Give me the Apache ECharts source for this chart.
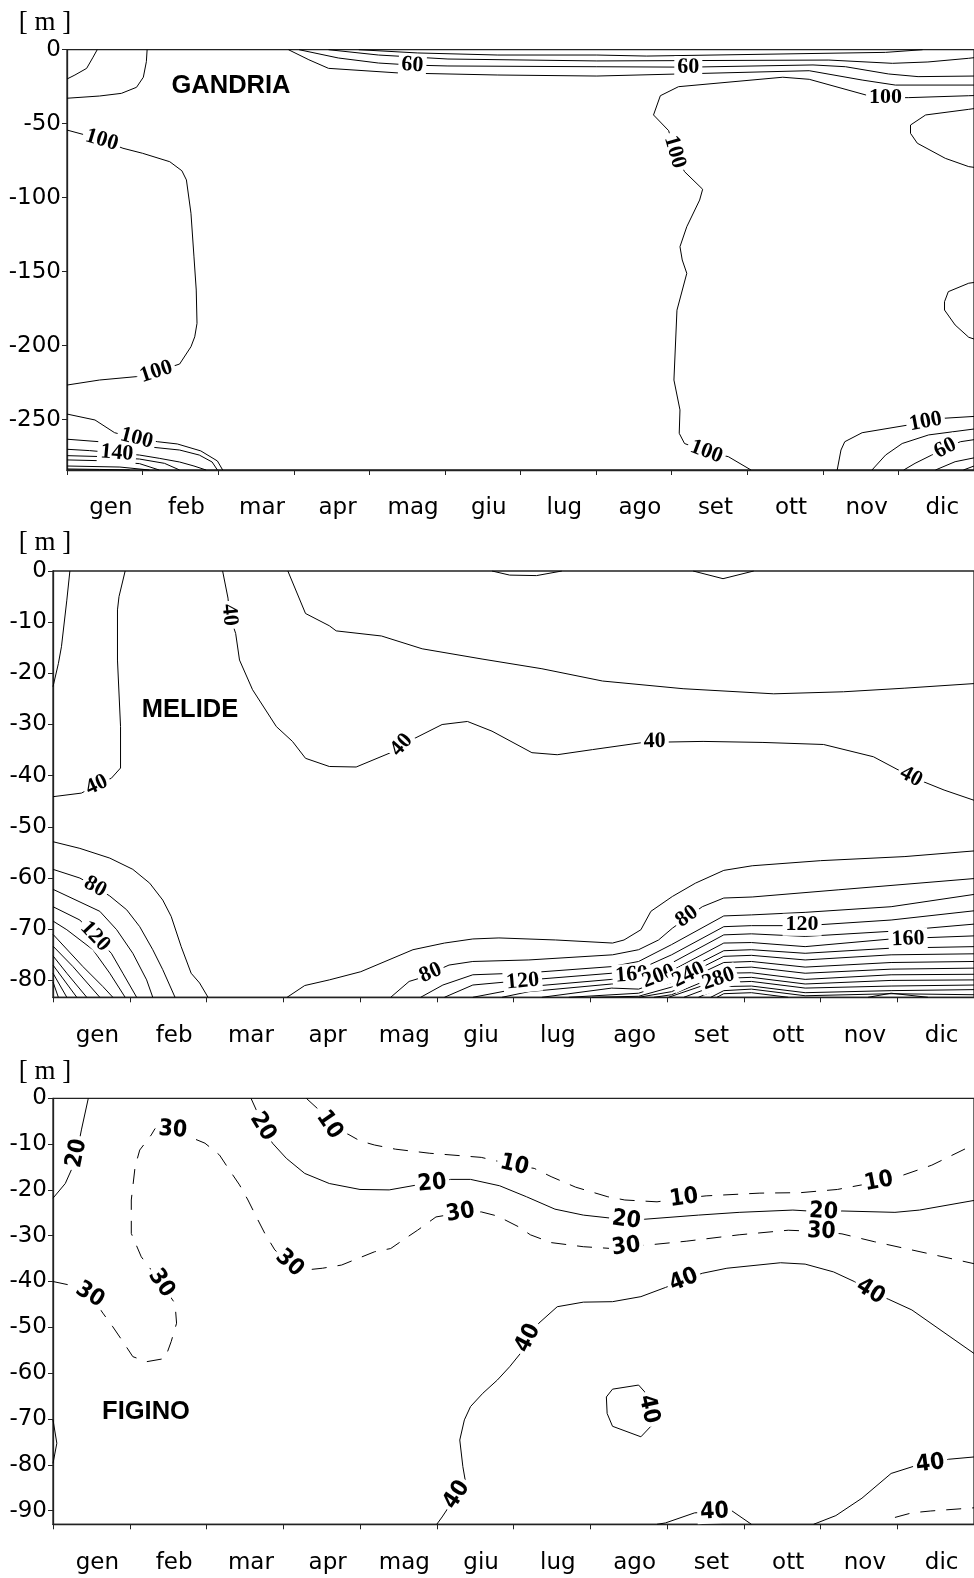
<!DOCTYPE html>
<html>
<head>
<meta charset="utf-8">
<script src="https://cdn.jsdelivr.net/npm/echarts@6/dist/echarts.min.js"></script>
<style>
html,body{margin:0;padding:0;background:#fff}
#chart{width:974px;height:1578px}
</style>
</head>
<body>
<div id="chart"></div>
<script>
// Month labels (Italian)
const MONTHS = ['gen','feb','mar','apr','mag','giu','lug','ago','set','ott','nov','dic'];

// Depth tick labels for each station
const GANDRIA_TICKS = [0,-50,-100,-150,-200,-250];
const MELIDE_TICKS = [0,-10,-20,-30,-40,-50,-60,-70,-80];
const FIGINO_TICKS = [0,-10,-20,-30,-40,-50,-60,-70,-80,-90];

// Deepest level drawn for each station [m]
const GANDRIA_DEPTH = -284;
const MELIDE_DEPTH = -83.3;
const FIGINO_DEPTH = -93;

// Isolines as [month, depth] polylines (month 0 = start of January)
const GANDRIA_LINES = [
  [[0.40,0],[0.34,-5.5],[0.26,-12.6],[0.105,-17.1],[0,-19.8]],
  [[1.06,0],[1.05,-8.1],[1.01,-18.6],[0.92,-25.4],[0.72,-29.5],[0.43,-31.3],[0,-32.8]],
  [[0,-54.3],[0.24,-57.6],[0.46,-61],[0.74,-66.6],[1.0,-70],[1.36,-75.7],[1.52,-81.8],[1.58,-88],[1.64,-110.5],[1.68,-140],[1.71,-162.4],[1.72,-184.9],[1.69,-194],[1.64,-200.7],[1.49,-212.4],[1.18,-217.6],[0.92,-220.9],[0.43,-223.2],[0,-226.6]],
  [[3.86,0],[4.64,-2.2],[5.70,-3.6],[7.01,-3.6],[7.67,-4.3],[10.83,-1.8],[11.32,0]],
  [[3.46,0],[4.12,-3.6],[5.04,-6.3],[7.01,-7.6],[10.08,-7],[10.92,-9.2],[11.39,-8.3],[11.93,-5.8],[12,-5.4]],
  [[3.07,0],[3.59,-5.6],[4.12,-9],[4.57,-10.4],[5.04,-11],[7.01,-11.5],[8.22,-11.8],[9.87,-10.3],[10.30,-11.5],[10.87,-16.4],[11.26,-18.2],[12,-17.8]],
  [[2.93,0],[3.2,-6.8],[3.46,-12.6],[4.38,-15.7],[5.70,-17.1],[7.01,-17.8],[9.82,-14.2],[10.52,-20.5],[10.96,-23.9],[12,-23.9]],
  [[12,-31],[11.93,-31.1],[11.13,-32.4],[10.83,-32.4],[10.57,-30.6],[9.82,-20],[9.47,-18.6],[8.09,-25],[7.85,-31.1],[7.76,-44.1],[7.96,-54.7],[8.04,-69.1],[8.17,-82.4],[8.41,-94.3],[8.37,-101.6],[8.2,-119.6],[8.11,-133.1],[8.14,-142.1],[8.2,-151.1],[8.07,-176],[8.03,-223.2],[8.11,-243.4],[8.10,-259.2],[8.17,-266.1],[8.46,-271.6],[8.75,-275],[9.05,-284]],
  [[12,-39.8],[11.93,-40.3],[11.36,-44.1],[11.16,-50.9],[11.16,-56.5],[11.25,-63.2],[11.62,-73.4],[11.93,-79],[12,-79.5]],
  [[12,-157.3],[11.93,-157.8],[11.66,-163.5],[11.61,-170.3],[11.61,-175.9],[11.75,-186],[11.93,-194.3],[12,-195.5]],
  [[10.19,-284],[10.24,-270.5],[10.29,-264.9],[10.52,-258.8],[11.13,-253.6],[11.36,-251.4],[11.58,-249.1],[12,-247.8]],
  [[10.65,-284],[10.83,-273.9],[11.05,-266.1],[11.40,-260.3],[12,-256.3]],
  [[11.07,-284],[11.22,-279.5],[11.44,-273.9],[11.62,-269.3],[11.82,-264.9],[12,-263.5]],
  [[11.49,-284],[11.75,-278.4],[12,-275.8]],
  [[11.86,-284],[12,-281.3]],
  [[0,-246.2],[0.37,-250.2],[0.63,-258.8],[0.92,-262.6],[1.20,-264.9],[1.46,-266.4],[1.77,-271.1],[1.99,-277.9],[2.06,-284]],
  [[0,-263.2],[0.43,-264.9],[1.09,-268.4],[1.49,-270.5],[1.75,-273.9],[1.92,-278.6],[1.99,-284]],
  [[0,-270],[0.30,-270.9],[0.66,-272.5],[0.96,-273.9],[1.22,-276.1],[1.49,-278.6],[1.68,-281.3],[1.84,-284]],
  [[0,-274.3],[0.43,-274.9],[0.96,-276.6],[1.29,-279.5],[1.49,-284]],
  [[0,-277.2],[0.43,-277.7],[0.96,-279.7],[1.22,-284]],
  [[0,-281.3],[0.70,-282],[1.09,-284]],
  [[0,-283.3],[0.43,-283.6],[0.83,-284]]
];
const GANDRIA_LABELS = [
  [0.46,-61,'100'],[1.18,-217.6,'100'],[4.57,-10.4,'60'],[8.22,-11.8,'60'],
  [10.83,-32.4,'100'],[8.04,-69.1,'100'],[8.46,-271.6,'100'],[0.92,-262.6,'100'],
  [0.66,-272.5,'140'],[11.36,-251.4,'100'],[11.62,-269.3,'60']
];

const MELIDE_LINES = [
  [[0.22,0],[0.18,-5.7],[0.11,-14.8],[0.07,-18.1],[0,-22.6]],
  [[0.94,0],[0.86,-5],[0.84,-7.6],[0.84,-17.4],[0.88,-30.4],[0.88,-38.5],[0.76,-40.5],[0.57,-41.8],[0.37,-43.4],[0,-44.1]],
  [[2.21,0],[2.28,-5.3],[2.30,-8.6],[2.38,-12.2],[2.43,-17.4],[2.60,-23.2],[2.91,-30.4],[3.12,-33.3],[3.29,-36.6],[3.60,-38.2],[3.95,-38.3],[4.48,-35],[4.54,-34],[5.07,-30],[5.40,-29.4],[5.72,-31.3],[6.24,-35.5],[6.57,-35.9],[7.03,-34.9],[7.69,-33.5],[8.47,-33.3],[9.25,-33.5],[10.04,-33.9],[10.69,-36.3],[11.18,-40.2],[11.61,-42.8],[12,-44.8]],
  [[3.06,0],[3.29,-8.3],[3.60,-10.7],[3.69,-11.7],[4.28,-12.7],[4.81,-15.2],[5.59,-17.2],[6.37,-19.1],[7.16,-21.5],[8.21,-23],[9.39,-24],[10.30,-23.6],[11.09,-22.9],[12,-22.0]],
  [[5.72,0],[5.95,-0.8],[6.3,-0.9],[6.63,0]],
  [[8.34,0],[8.73,-1.5],[9.13,0]],
  [[0,-52.9],[0.35,-54.2],[0.74,-56.1],[1.04,-58.3],[1.26,-61],[1.43,-64.3],[1.54,-67.5],[1.67,-73.4],[1.80,-78.6],[1.91,-80.5],[2.02,-83.3]],
  [[0,-58.3],[0.35,-60],[0.55,-61.7],[0.74,-63.5],[0.96,-66.2],[1.13,-69.5],[1.30,-74],[1.43,-77.9],[1.59,-83.3]],
  [[0,-62.2],[0.61,-66.5],[0.83,-70.1],[1.04,-74.7],[1.22,-79.9],[1.30,-83.3]],
  [[0,-65.6],[0.35,-68.2],[0.55,-71.4],[0.76,-74.7],[0.91,-78.6],[1.09,-83.3]],
  [[0,-68.4],[0.18,-70.1],[0.52,-74],[0.74,-78.6],[0.94,-83.3]],
  [[0,-71],[0.39,-77.3],[0.65,-81.2],[0.78,-83.3]],
  [[0,-73.3],[0.26,-77.3],[0.61,-83.3]],
  [[0,-75.2],[0.18,-78.6],[0.44,-83.3]],
  [[0,-77],[0.31,-83.3]],
  [[0,-78.6],[0.18,-83.3]],
  [[0,-80.3],[0.07,-83.3]],
  [[3.05,-83.3],[3.28,-81],[3.60,-79.9],[4.01,-78.3],[4.69,-74],[5.10,-72.7],[5.47,-71.9],[5.81,-71.7],[6.55,-72.1],[7.29,-72.7],[7.44,-72.1],[7.66,-70.1],[7.79,-66.5],[8.07,-63.6],[8.37,-61],[8.74,-58.5],[9.11,-57.6],[10.0,-56.6],[11.10,-55.8],[12,-54.7]],
  [[4.40,-83.3],[4.64,-80.2],[4.77,-79.6],[5.16,-77],[5.47,-76.3],[6.20,-76],[7.29,-75],[7.63,-74],[7.89,-72.1],[8.07,-69.8],[8.46,-65.6],[8.74,-63.9],[9.11,-63.7],[10.23,-62.3],[12,-60.1]],
  [[4.79,-83.3],[5.08,-80.9],[5.47,-78.9],[6.20,-78.5],[7.28,-77.3],[7.63,-76.3],[8.06,-73],[8.74,-67.4],[9.10,-67.2],[9.80,-66.7],[10.92,-65.6],[12,-63.2]],
  [[5.10,-83.3],[5.47,-80.9],[6.20,-79.9],[7.28,-78.6],[7.63,-77.9],[8.06,-75],[8.74,-69.5],[9.10,-69.3],[9.80,-69.3],[10.92,-68.2],[12,-66.4]],
  [[5.47,-83.3],[6.20,-81.2],[7.28,-79.8],[7.63,-79.4],[8.06,-76.6],[8.74,-71.1],[9.10,-70.9],[9.80,-71.4],[10.92,-70.4],[12,-69]],
  [[5.85,-83.3],[6.20,-82.2],[7.28,-80.7],[7.63,-80.5],[8.06,-78.1],[8.74,-72.7],[9.10,-72.6],[9.80,-73.4],[10.92,-71.9],[12,-71.3]],
  [[6.37,-83.3],[7.28,-81.5],[7.63,-81.7],[8.06,-79.4],[8.74,-74.2],[9.10,-74],[9.80,-74.7],[10.92,-73.7],[12,-73.4]],
  [[6.72,-83.3],[7.63,-82.5],[8.06,-80.4],[8.74,-75.3],[9.10,-75.1],[9.80,-76],[10.92,-75],[12,-74.8]],
  [[7.02,-83.3],[7.63,-83.1],[8.06,-81.3],[8.74,-76.5],[9.10,-76.3],[9.80,-77.4],[10.92,-76.5],[12,-76.3]],
  [[7.63,-83.3],[8.06,-82.2],[8.74,-77.6],[9.10,-77.4],[9.80,-78.6],[10.92,-77.8],[12,-77.6]],
  [[7.83,-83.3],[8.06,-82.8],[8.74,-78.6],[9.10,-78.5],[9.80,-79.8],[10.92,-78.9],[12,-78.8]],
  [[8.02,-83.3],[8.74,-79.6],[9.10,-79.4],[9.80,-80.7],[10.92,-80],[12,-79.9]],
  [[8.22,-83.3],[8.74,-80.4],[9.10,-80.2],[9.80,-81.5],[10.92,-81.1],[12,-80.9]],
  [[8.41,-83.3],[8.74,-81.2],[9.10,-81.1],[9.80,-82.4],[10.92,-82],[12,-81.8]],
  [[8.57,-83.3],[8.74,-82],[9.10,-81.7],[9.80,-83],[10.92,-82.6],[12,-82.8]],
  [[8.65,-83.3],[8.74,-82.6],[9.10,-82.4],[9.58,-83.3]],
  [[10.62,-83.3],[10.92,-82.5],[11.4,-83.3]]
];
const MELIDE_LABELS = [
  [0.57,-41.8,'40'],[2.30,-8.6,'40'],[4.54,-34,'40'],[7.84,-33.3,'40'],[11.18,-40.2,'40'],
  [0.55,-61.7,'80'],[0.55,-71.4,'120'],[4.92,-78.5,'80'],[6.12,-80.2,'120'],
  [8.26,-67.5,'80'],[9.76,-69.1,'120'],[11.14,-71.9,'160'],
  [7.54,-78.9,'160'],[7.89,-79.2,'200'],[8.28,-78.9,'240'],[8.67,-79.7,'280']
];

const FIGINO_SOLID = [
  [[0.46,0],[0.37,-6.9],[0.31,-12],[0.24,-15.6],[0.16,-18.6],[0,-21.8]],
  [[2.58,0],[2.65,-2.6],[2.73,-6.2],[2.86,-9.8],[3.04,-13.1],[3.28,-16.4],[3.60,-18.6],[4.00,-19.9],[4.38,-20],[4.75,-18.9],[4.94,-18.6],[5.18,-17.7],[5.44,-17.7],[5.82,-19.1],[6.17,-21.5],[6.54,-24.2],[6.91,-25.5],[7.29,-26.2],[7.47,-26.6],[7.71,-26.4],[8.41,-25.5],[8.94,-24.9],[9.64,-24.4],[10.04,-24.8],[10.28,-24.6],[10.97,-24.9],[11.29,-24.4],[12,-22.3]],
  [[5.00,-93],[5.07,-91.4],[5.26,-86.6],[5.37,-83.3],[5.34,-80.4],[5.30,-74.6],[5.36,-70.2],[5.44,-67.3],[5.60,-64.4],[5.79,-61.5],[5.95,-58.6],[6.09,-55.7],[6.19,-52.4],[6.33,-49.1],[6.57,-45.5],[6.91,-44.5],[7.29,-44.4],[7.66,-43.3],[7.98,-41.3],[8.22,-39.7],[8.46,-38.2],[8.78,-37.1],[9.48,-35.9],[9.80,-36.2],[10.17,-37.9],[10.44,-40],[10.65,-42.2],[10.89,-43.9],[11.19,-46.2],[12,-55.7]],
  [[7.29,-63.5],[7.63,-62.6],[7.71,-64.1],[7.76,-67.9],[7.79,-71.6],[7.66,-73.9],[7.29,-71.6],[7.22,-68.8],[7.21,-65.2],[7.29,-63.5]],
  [[7.87,-93],[7.98,-92.7],[8.36,-90.5],[8.62,-90.3],[8.84,-90],[9.10,-93]],
  [[9.91,-93],[10.20,-91.1],[10.54,-87.3],[10.92,-81.9],[11.24,-80.2],[11.43,-79.8],[11.67,-78.8],[12,-78.3]],
  [[0,-70.2],[0.05,-75.3],[0,-79.7]]
];
const FIGINO_DASHED = [
  [[3.30,0],[3.47,-2.6],[3.60,-5.8],[3.82,-7.6],[4.00,-9.3],[4.19,-10.2],[4.46,-11.1],[4.91,-12],[5.36,-12.6],[5.58,-12.9],[6.01,-14.6],[6.27,-15.3],[6.49,-17.1],[6.81,-19.4],[7.23,-21.5],[7.45,-22.2],[7.87,-22.6],[8.22,-21.8],[8.51,-21.3],[9.21,-20.7],[9.74,-20.6],[10.22,-19.9],[10.76,-18.2],[11.02,-17.1],[11.45,-14.6],[12,-10.1]],
  [[0,-40],[0.31,-41.1],[0.48,-42.9],[0.65,-46.9],[0.78,-49.9],[0.91,-53.1],[1.04,-56.4],[1.22,-57.5],[1.46,-56.8],[1.54,-53.1],[1.61,-49.1],[1.59,-44.8],[1.41,-40.4],[1.30,-37.9],[1.15,-34.6],[1.02,-29.5],[1.02,-22.2],[1.07,-14.9],[1.13,-11.3],[1.28,-8],[1.33,-6.6],[1.56,-6.9],[1.82,-8.7],[1.98,-9.8],[2.17,-12.4],[2.30,-15.7],[2.43,-18.9],[2.54,-22.2],[2.65,-25.9],[2.76,-29.5],[2.89,-33.1],[3.08,-36],[3.28,-37.5],[3.51,-37.1],[3.76,-36.4],[4.19,-33.5],[4.40,-32.8],[4.59,-30.6],[4.75,-28.8],[4.99,-25.9],[5.31,-25],[5.58,-24.8],[5.79,-25.7],[6.06,-28],[6.22,-29.8],[6.49,-31.5],[6.91,-32.4],[7.29,-32.8],[7.47,-32.4],[7.77,-32],[8.25,-31.2],[8.94,-29.8],[9.58,-28.8],[10.01,-29.1],[10.28,-29.6],[10.70,-31.3],[11.19,-33.1],[12,-36.1]],
  [[10.97,-91.5],[11.19,-90.5],[11.43,-90.1],[12,-89.4]]
];
const FIGINO_LABELS = [
  [0.31,-12,'20'],[2.73,-6.2,'20'],[4.94,-18.6,'20'],[7.47,-26.6,'20'],[10.04,-24.8,'20'],
  [3.60,-5.8,'10'],[6.01,-14.6,'10'],[8.22,-21.8,'10'],[10.76,-18.2,'10'],
  [0.48,-42.9,'30'],[1.41,-40.4,'30'],[1.56,-6.9,'30'],[3.08,-36,'30'],[5.31,-25,'30'],[7.47,-32.4,'30'],[10.01,-29.1,'30'],
  [5.26,-86.6,'40'],[6.19,-52.4,'40'],[8.22,-39.7,'40'],[10.65,-42.2,'40'],[7.76,-67.9,'40'],[8.62,-90.3,'40'],[11.43,-79.8,'40']
];

// ---- layout & styling ----
const AXIS_FONT = '"DejaVu Sans", sans-serif';
const PANELS = [
  {name:'GANDRIA', grid:{left:67, top:49.7, width:912, height:420.3}, min:GANDRIA_DEPTH, ticks:GANDRIA_TICKS,
   solid:GANDRIA_LINES, dashed:[], labels:GANDRIA_LABELS,
   labelFont:{fontFamily:'"Liberation Serif", serif', fontSize:22, fontWeight:'bold'},
   unit:[45,23], title:[231,86]},
  {name:'MELIDE', grid:{left:53, top:571, width:923, height:426.3}, min:MELIDE_DEPTH, ticks:MELIDE_TICKS,
   solid:MELIDE_LINES, dashed:[], labels:MELIDE_LABELS,
   labelFont:{fontFamily:'"Liberation Serif", serif', fontSize:22, fontWeight:'bold'},
   unit:[45,543], title:[190,710]},
  {name:'FIGINO', grid:{left:53, top:1098.3, width:923, height:426}, min:FIGINO_DEPTH, ticks:FIGINO_TICKS,
   solid:FIGINO_SOLID, dashed:FIGINO_DASHED, labels:FIGINO_LABELS,
   labelFont:{fontFamily:'"Liberation Sans Narrow", "DejaVu Sans Condensed", sans-serif', fontSize:23, fontWeight:'bold'},
   unit:[45,1072], title:[146,1412]}
];

// angle of the isoline nearest to a label, in screen degrees (CCW positive)
function labelAngle(pt, lines, pxM, pxD) {
  let best = Infinity, ang = 0;
  const px = pt[0] * pxM, py = -pt[1] * pxD;
  for (const line of lines) {
    for (let i = 0; i < line.length - 1; i++) {
      const ax = line[i][0] * pxM, ay = -line[i][1] * pxD;
      const bx = line[i+1][0] * pxM, by = -line[i+1][1] * pxD;
      const dx = bx - ax, dy = by - ay, L = dx*dx + dy*dy;
      let t = L ? ((px - ax) * dx + (py - ay) * dy) / L : 0;
      t = Math.max(0, Math.min(1, t));
      const cx = ax + t*dx - px, cy = ay + t*dy - py, dist = cx*cx + cy*cy;
      if (dist < best) { best = dist; ang = Math.atan2(-dy, dx) * 180 / Math.PI; }
    }
  }
  if (ang > 90) ang -= 180;
  if (ang < -90) ang += 180;
  return ang;
}

const grids = [], xAxes = [], yAxes = [], series = [], graphics = [];
PANELS.forEach((p, i) => {
  grids.push(Object.assign({show:true, borderColor:'#222', borderWidth:1.3, backgroundColor:'transparent'}, p.grid));
  // hidden numeric month axis that carries the isolines
  xAxes.push({type:'value', gridIndex:i, min:0, max:12, show:false});
  // visible month axis: ticks at month boundaries, names centred in each month
  xAxes.push({type:'category', gridIndex:i, data:MONTHS, boundaryGap:true, position:'bottom',
    axisLine:{show:true, lineStyle:{color:'#222', width:1.3}},
    axisTick:{show:true, length:5, interval:0, lineStyle:{color:'#222', width:1}},
    axisLabel:{interval:0, margin:27, padding:[0,0,0,12], color:'#000', fontSize:23, fontFamily:AXIS_FONT},
    splitLine:{show:false}});
  yAxes.push({type:'value', gridIndex:i, min:p.min, max:0,
    axisLine:{show:true, lineStyle:{color:'#222', width:1.3}},
    axisTick:{show:true, length:5, customValues:p.ticks, lineStyle:{color:'#222', width:1}},
    axisLabel:{customValues:p.ticks, margin:6, color:'#000', fontSize:23, fontFamily:AXIS_FONT},
    splitLine:{show:false}});

  const addLines = (lines, dashed) => lines.forEach(line => series.push({
    type:'line', xAxisIndex:2*i, yAxisIndex:i, data:line, symbol:'none', showSymbol:false,
    silent:true, z:2, clip:true,
    lineStyle:{color:'#000', width:1, type: dashed ? [15,11] : 'solid'}
  }));
  addLines(p.solid, false);
  addLines(p.dashed, true);

  const pxM = p.grid.width / 12, pxD = p.grid.height / (-p.min);
  const all = p.solid.concat(p.dashed);
  series.push({
    type:'scatter', xAxisIndex:2*i, yAxisIndex:i, symbolSize:1, silent:true, z:5,
    itemStyle:{color:'#fff', opacity:1},
    data:p.labels.map(l => ({value:[l[0], l[1]], name:l[2],
      label:{rotate: labelAngle([l[0], l[1]], all, pxM, pxD)}})),
    label:Object.assign({show:true, position:'inside', color:'#000', opacity:1, textBorderWidth:0,
      formatter:q => q.name, backgroundColor:'#fff', padding:[0,3]}, p.labelFont)
  });

  graphics.push({type:'text', x:p.unit[0], y:p.unit[1], z:10,
    style:{text:'[ m ]', fill:'#000', font:'27px "Liberation Serif", serif', align:'center', verticalAlign:'middle'}});
  graphics.push({type:'text', x:p.title[0], y:p.title[1], z:10,
    style:{text:p.name, fill:'#000', font:'bold 25.5px "Liberation Sans", Arial, sans-serif', align:'center', verticalAlign:'middle'}});
});

const chart = echarts.init(document.getElementById('chart'), null, {renderer:'canvas'});
chart.setOption({
  animation:false,
  backgroundColor:'#fff',
  grid:grids, xAxis:xAxes, yAxis:yAxes, series:series, graphic:graphics
});
</script>
</body>
</html>
